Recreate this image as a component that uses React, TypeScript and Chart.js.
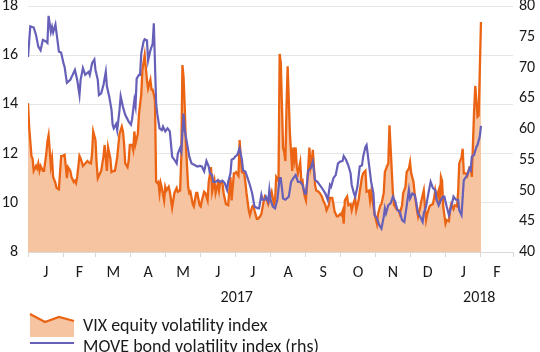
import React, { useEffect, useRef } from 'react';
import { Chart, registerables } from 'chart.js';

Chart.register(...registerables);

// x positions are days since 1 Jan 2017
const monthStarts = [0, 31, 59, 90, 120, 151, 181, 212, 243, 273, 304, 334, 365, 396, 424];
const monthLabels = ['J', 'F', 'M', 'A', 'M', 'J', 'J', 'A', 'S', 'O', 'N', 'D', 'J', 'F'];
const yearLabels = ['2017', '2018'];
const yearCenters = [182.5, 394.5];

const leftTicks = [8, 10, 12, 14, 16, 18];
const rightTicks = [40, 45, 50, 55, 60, 65, 70, 75, 80];

const vixDay = [
  0, 1, 3, 4, 5, 7, 8, 9, 10, 11, 13, 14, 16, 17, 18, 20, 21, 22, 24, 25, 27, 29, 30, 32, 33, 34, 35, 37, 38, 40,
  41, 42, 43, 45, 46, 48, 50, 52, 53, 55, 56, 57, 59, 60, 61, 63, 64, 66, 67, 69, 70, 72, 73, 75, 76, 78, 79, 80, 82, 83,
  84, 85, 87, 88, 89, 91, 92, 93, 94, 96, 97, 99, 100, 102, 104, 105, 107, 108, 109, 110, 111, 112, 113, 114, 115, 116, 117, 119, 120, 121,
  123, 124, 126, 127, 128, 130, 131, 133, 134, 135, 136, 137, 138, 140, 141, 142, 144, 145, 147, 148, 150, 151, 152, 154, 155, 157, 158, 160, 161, 163,
  164, 166, 167, 168, 170, 171, 173, 175, 176, 177, 178, 180, 181, 182, 184, 185, 186, 187, 189, 190, 191, 193, 194, 196, 197, 198, 200, 201, 203, 204,
  206, 207, 209, 210, 212, 213, 215, 216, 217, 219, 220, 221, 223, 224, 225, 226, 227, 228, 229, 231, 232, 233, 234, 235, 236, 238, 239, 240, 241, 242,
  243, 245, 246, 247, 248, 249, 251, 252, 254, 255, 257, 258, 260, 261, 263, 264, 266, 267, 268, 270, 271, 273, 274, 275, 276, 277, 279, 280, 282, 283,
  284, 286, 287, 289, 290, 292, 293, 295, 296, 298, 299, 300, 302, 303, 305, 306, 308, 309, 311, 312, 314, 315, 316, 317, 319, 320, 321, 322, 324, 325,
  327, 328, 330, 331, 333, 334, 335, 337, 338, 340, 341, 343, 344, 346, 347, 348, 349, 351, 352, 354, 355, 356, 357, 359, 360, 361, 362, 363, 365, 366,
  368, 369, 370, 372, 373, 375, 376, 377, 379, 380, 381, 383, 384, 386, 387, 388, 390, 391, 392, 393, 394, 396,
];
const vixValue = [
  14.05, 13.1, 11.9, 11.8, 11.3, 11.5, 11.4, 11.6, 11.3, 11.5, 11.3, 11.3, 12.0, 12.5, 12.75, 11.5, 11.8, 11.05, 10.8, 10.6, 10.55, 11.9, 11.9, 11.95, 11.5, 11.0, 11.45, 11.3, 11.05, 10.85,
  10.9, 10.8, 11.05, 11.9, 11.8, 11.5, 11.6, 11.7, 11.65, 11.6, 12.0, 12.9, 12.55, 11.6, 11.0, 11.2, 11.3, 11.9, 12.35, 11.3, 12.25, 11.8, 11.25, 11.3, 11.3, 11.85, 12.35, 12.8, 13.1, 12.9,
  12.4, 11.6, 11.45, 11.7, 12.35, 12.35, 12.15, 12.9, 12.4, 12.8, 13.6, 14.4, 15.4, 16.0, 15.0, 14.65, 15.0, 14.6, 14.6, 14.4, 14.15, 10.85, 10.8, 10.85, 10.4, 10.8, 10.6, 10.1, 10.65, 10.5,
  10.65, 10.45, 9.8, 10.1, 10.4, 10.6, 10.45, 10.5, 11.85, 15.6, 15.1, 13.9, 12.4, 10.65, 10.4, 10.45, 9.95, 9.85, 10.4, 10.4, 9.9, 9.85, 10.1, 10.45, 10.4, 10.1, 10.85, 11.45, 10.45, 10.9,
  10.4, 10.8, 10.5, 10.85, 10.8, 10.4, 9.95, 9.9, 10.5, 11.05, 10.1, 11.2, 11.2, 11.25, 11.1, 12.55, 11.85, 11.25, 11.2, 10.85, 10.4, 9.7, 9.5, 9.85, 9.9, 9.7, 9.35, 9.35, 9.45, 9.55,
  10.05, 10.25, 10.1, 9.95, 10.3, 10.45, 9.95, 10.1, 11.05, 10.9, 16.05, 15.7, 12.25, 12.05, 11.7, 13.9, 15.55, 14.15, 12.8, 11.3, 12.25, 11.8, 12.25, 11.45, 11.2, 11.65, 10.85, 10.9, 10.5, 10.25,
  10.1, 11.45, 12.25, 11.45, 11.7, 12.15, 10.7, 10.5, 10.45, 10.4, 10.25, 10.1, 9.9, 9.7, 9.9, 10.2, 10.2, 9.95, 9.65, 9.45, 9.45, 9.55, 9.5, 9.65, 9.15, 10.1, 10.25, 9.9, 9.95, 9.7,
  9.9, 10.2, 9.7, 10.1, 10.45, 11.05, 11.2, 11.3, 10.45, 10.5, 10.1, 10.45, 9.85, 9.55, 9.15, 9.55, 9.9, 9.95, 10.4, 11.25, 11.5, 11.6, 13.15, 12.25, 10.4, 9.9, 9.85, 9.75, 9.7, 9.55,
  9.9, 10.4, 10.65, 11.25, 11.4, 11.65, 11.2, 10.85, 10.4, 9.7, 9.45, 9.85, 10.1, 10.5, 9.85, 9.3, 9.55, 9.85, 9.9, 9.95, 10.2, 10.5, 10.2, 10.5, 9.95, 11.05, 10.9, 9.85, 9.15, 9.3,
  9.25, 9.75, 9.95, 9.75, 9.9, 9.85, 10.4, 11.6, 11.85, 12.2, 11.2, 11.2, 11.1, 11.45, 11.45, 11.05, 13.75, 14.75, 14.15, 13.5, 13.55, 17.35,
];

const moveDay = [
  0, 2, 5, 7, 9, 11, 13, 16, 17, 18, 20, 21, 22, 24, 27, 29, 31, 32, 34, 37, 39, 41, 43, 45, 46, 48, 50, 53, 54, 56,
  58, 59, 61, 62, 64, 66, 68, 69, 71, 73, 74, 75, 77, 78, 80, 81, 83, 85, 88, 90, 91, 93, 94, 95, 97, 98, 99, 101, 102, 104,
  105, 107, 109, 110, 112, 113, 115, 117, 118, 120, 122, 124, 126, 128, 130, 131, 133, 134, 136, 137, 139, 141, 143, 146, 148, 150, 152, 154, 156, 158,
  159, 161, 162, 164, 166, 168, 170, 172, 174, 175, 177, 178, 180, 181, 183, 185, 187, 188, 190, 192, 194, 196, 198, 201, 202, 204, 205, 207, 208, 210,
  211, 212, 214, 216, 218, 220, 221, 223, 225, 228, 230, 232, 234, 236, 238, 240, 242, 243, 245, 247, 249, 251, 253, 255, 257, 260, 262, 264, 265, 267,
  269, 271, 273, 275, 276, 278, 280, 282, 283, 285, 286, 288, 290, 292, 293, 295, 296, 298, 300, 302, 303, 305, 307, 309, 311, 312, 313, 315, 317, 319,
  321, 323, 325, 327, 329, 331, 333, 334, 336, 338, 339, 341, 343, 345, 346, 348, 350, 352, 354, 356, 357, 359, 361, 363, 364, 366, 368, 370, 372, 374,
  376, 377, 379, 381, 383, 384, 386, 387, 388, 390, 392, 393, 395, 396,
];
const moveValue = [
  71.7, 76.7, 76.5, 75.3, 73.4, 72.8, 74.5, 74.2, 74.0, 78.4, 75.8, 76.6, 75.7, 77.0, 72.6, 72.4, 70.7, 70.1, 67.5, 68.0, 68.8, 69.6, 68.0, 65.5, 68.0, 69.9, 68.8, 69.3, 68.8, 70.7,
  71.3, 69.6, 68.0, 65.5, 65.8, 67.2, 69.3, 66.9, 65.3, 63.1, 60.7, 60.1, 60.8, 59.8, 63.1, 65.3, 63.6, 62.3, 61.2, 60.7, 61.6, 64.7, 63.7, 68.2, 68.8, 68.8, 72.3, 74.2, 74.6, 74.4,
  71.1, 72.8, 73.9, 77.2, 64.2, 62.5, 60.1, 59.8, 60.4, 59.6, 60.1, 59.6, 55.5, 55.0, 54.4, 56.0, 56.9, 56.3, 62.5, 59.8, 57.7, 55.5, 54.4, 54.1, 53.9, 54.0, 53.9, 53.1, 54.8, 53.9,
  52.8, 52.5, 51.4, 51.4, 51.7, 51.4, 51.6, 51.2, 50.1, 51.4, 52.8, 55.0, 55.2, 55.5, 55.8, 56.9, 55.0, 53.3, 53.1, 52.0, 50.9, 49.5, 47.4, 47.1, 47.1, 49.3, 48.5, 48.5, 49.0, 48.2,
  50.1, 48.5, 47.4, 47.1, 48.5, 52.0, 52.0, 48.7, 48.5, 49.0, 51.4, 52.0, 52.5, 51.4, 51.4, 50.9, 49.5, 49.5, 53.3, 53.6, 54.7, 51.7, 51.4, 50.9, 50.4, 49.5, 48.5, 50.9, 50.6, 52.0,
  52.5, 54.4, 54.7, 54.8, 55.6, 55.0, 54.1, 52.8, 50.9, 49.5, 49.0, 50.6, 53.9, 54.1, 55.5, 57.1, 57.4, 54.4, 51.4, 49.5, 46.0, 45.5, 44.4, 43.8, 45.7, 47.1, 46.3, 47.6, 47.9, 49.0,
  48.2, 46.8, 46.6, 45.2, 44.9, 47.4, 50.1, 48.7, 49.5, 49.3, 48.5, 46.3, 45.7, 44.9, 46.3, 47.4, 49.5, 51.4, 50.4, 50.1, 48.7, 47.6, 48.5, 49.0, 49.0, 47.4, 46.0, 47.4, 49.0, 48.5,
  48.5, 46.8, 46.0, 51.7, 52.2, 52.5, 53.6, 53.3, 55.5, 55.8, 57.1, 57.4, 58.8, 60.5,
];

const vixLabel = 'VIX equity volatility index';
const moveLabel = 'MOVE bond volatility index (rhs)';

const ORANGE = '#EB6414';
const PEACH = '#F7C4A2';
const PURPLE = '#6660B8';
const TEXT = '#1a1a1a';
const AXIS = '#d9d9d9';
const GRID = '#e6e6e6';
const FONT = 'Carlito, Lato, sans-serif';

export default function App() {
  const ref = useRef<HTMLCanvasElement>(null);

  useEffect(() => {
    document.body.style.margin = '0';
    const canvas = ref.current;
    if (!canvas) return;

    const boundarySet = new Set(monthStarts);
    const labelMap = new Map<number, string | string[]>();
    monthStarts.forEach((v) => labelMap.set(v, ''));
    monthLabels.forEach((m, i) => labelMap.set((monthStarts[i] + monthStarts[i + 1]) / 2, m));
    yearLabels.forEach((y, i) => labelMap.set(yearCenters[i], ['', y]));
    const xTickValues = Array.from(labelMap.keys()).sort((a, b) => a - b);

    const legendPlugin = {
      id: 'customLegend',
      afterDraw(chart: any) {
        const ctx = chart.ctx;
        const left = chart.chartArea.left + 2;
        const bottom = chart.height;
        ctx.save();
        // VIX swatch: small area
        const y0 = bottom - 38;
        ctx.beginPath();
        ctx.moveTo(left, y0);
        ctx.lineTo(left + 15, y0 + 8);
        ctx.lineTo(left + 29, y0 + 3);
        ctx.lineTo(left + 44, y0 + 7);
        ctx.lineTo(left + 44, y0 + 23);
        ctx.lineTo(left, y0 + 23);
        ctx.closePath();
        ctx.fillStyle = PEACH;
        ctx.fill();
        ctx.beginPath();
        ctx.moveTo(left, y0);
        ctx.lineTo(left + 15, y0 + 8);
        ctx.lineTo(left + 29, y0 + 3);
        ctx.lineTo(left + 44, y0 + 7);
        ctx.strokeStyle = ORANGE;
        ctx.lineWidth = 2.3;
        ctx.stroke();
        // MOVE swatch
        ctx.beginPath();
        ctx.moveTo(left, bottom - 9);
        ctx.lineTo(left + 44, bottom - 9);
        ctx.strokeStyle = PURPLE;
        ctx.lineWidth = 2;
        ctx.stroke();
        ctx.fillStyle = TEXT;
        ctx.font = `18px ${FONT}`;
        ctx.textBaseline = 'middle';
        ctx.textAlign = 'left';
        ctx.fillText(vixLabel, left + 53, bottom - 26);
        ctx.fillText(moveLabel, left + 53, bottom - 5);
        ctx.restore();
      },
    };

    const chart = new Chart(canvas, {
      type: 'line',
      data: {
        datasets: [
          {
            label: vixLabel,
            data: vixDay.map((d, i) => ({ x: d, y: vixValue[i] })),
            yAxisID: 'y',
            borderColor: ORANGE,
            backgroundColor: PEACH,
            borderWidth: 2.3,
            pointRadius: 0,
            fill: 'start',
            tension: 0,
            order: 2,
          },
          {
            label: moveLabel,
            data: moveDay.map((d, i) => ({ x: d, y: moveValue[i] })),
            yAxisID: 'y2',
            borderColor: PURPLE,
            backgroundColor: PURPLE,
            borderWidth: 2.2,
            pointRadius: 0,
            fill: false,
            tension: 0,
            order: 1,
          },
        ],
      },
      options: {
        responsive: false,
        animation: false,
        layout: { padding: { top: 6, bottom: 42, left: 0, right: 0 } },
        plugins: {
          legend: { display: false },
          tooltip: { enabled: false },
          filler: { drawTime: 'beforeDatasetsDraw' },
        } as any,
        scales: {
          x: {
            type: 'linear',
            min: monthStarts[0],
            max: monthStarts[monthStarts.length - 1],
            afterBuildTicks: (s: any) => {
              s.ticks = xTickValues.map((v) => ({ value: v }));
            },
            afterFit: (s: any) => {
              s.height = 58;
              s.paddingLeft = 0;
              s.paddingRight = 0;
            },
            ticks: {
              autoSkip: false,
              maxRotation: 0,
              padding: 3,
              color: TEXT,
              font: { family: FONT, size: 16, lineHeight: 1.5625 },
              callback: (v: any) => labelMap.get(v) ?? '',
            },
            grid: {
              drawOnChartArea: false,
              drawTicks: true,
              tickLength: 5,
              tickColor: (ctx: any) => (boundarySet.has(ctx.tick?.value) ? AXIS : 'rgba(0,0,0,0)'),
              color: 'rgba(0,0,0,0)',
            },
            border: { display: true, color: AXIS, width: 1 },
          },
          y: {
            position: 'left',
            min: 8,
            max: 18,
            afterBuildTicks: (s: any) => {
              s.ticks = leftTicks.map((v) => ({ value: v }));
            },
            afterFit: (s: any) => {
              s.width = 28;
              s.paddingTop = 0;
              s.paddingBottom = 0;
            },
            ticks: { padding: 10, color: TEXT, font: { family: FONT, size: 16 } },
            grid: {
              drawTicks: false,
              color: (ctx: any) => (ctx.tick?.value === 8 ? 'rgba(0,0,0,0)' : GRID),
            },
            border: { display: false },
          },
          y2: {
            position: 'right',
            min: 40,
            max: 80,
            afterBuildTicks: (s: any) => {
              s.ticks = rightTicks.map((v) => ({ value: v }));
            },
            afterFit: (s: any) => {
              s.width = 27;
              s.paddingTop = 0;
              s.paddingBottom = 0;
            },
            ticks: { padding: 6, color: TEXT, font: { family: FONT, size: 16 } },
            grid: { display: false, drawTicks: false },
            border: { display: false },
          },
        },
      },
      plugins: [legendPlugin],
    });

    return () => chart.destroy();
  }, []);

  return (
    <div style={{ position: 'absolute', left: 0, top: 0, width: 540, height: 352 }}>
      <canvas ref={ref} width={540} height={352} style={{ display: 'block' }} />
    </div>
  );
}
